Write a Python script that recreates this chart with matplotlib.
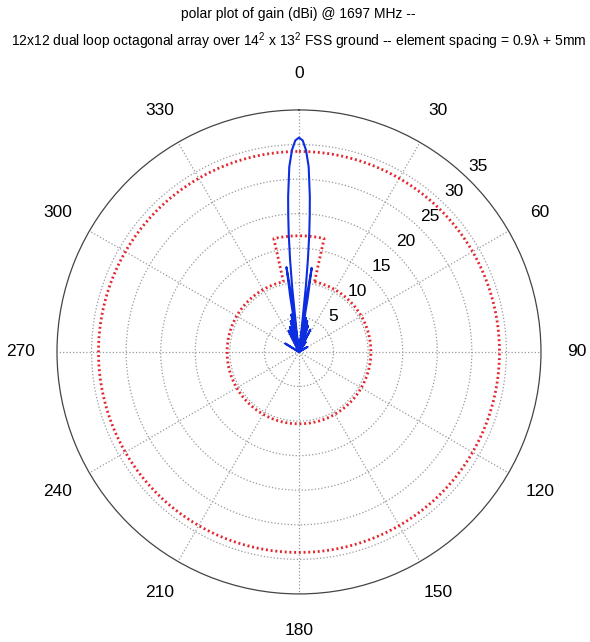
import numpy as np
import matplotlib
matplotlib.use("Agg")
import matplotlib.pyplot as plt
from matplotlib import font_manager

# measured gain pattern (dBi), angle in degrees clockwise from broadside
gain_deg = [-70, -60, -58.5, -57, -27.5, -26, -24.5, -21.5, -20, -18.5,
            -16.3, -15, -13.7, -12.5, -11.5, -10.5, -9.6, -9.0, -8.4, -7.8,
            -7.2, -6.6, -6.0, -5.5, -5.0, -4.5, -4.0, -3.0, -2.0, -1.0,
            0.0, 1.0, 2.0, 3.0, 4.0, 4.5, 5.0, 5.5, 6.0, 6.6,
            7.4, 8.0, 8.6, 9.2, 9.8, 10.5, 11.5, 12.5, 13.7, 15.0,
            16.3, 17.7, 19.0, 20.3, 25.5, 27.0, 28.5, 32.5, 34.0, 35.5,
            57.5, 59.0, 60.5, 70]
gain_dbi = [0, 0, 2.3, 0, 0, 3.4, 0, 0, 3.8, 0,
            0, 4.6, 0, 0, 5.5, 0, 0, 8.0, 12.4, 8.5,
            0, 3.0, 9.5, 13.5, 17.0, 19.8, 22.5, 26.8, 29.2, 30.6,
            31.0, 30.6, 29.2, 26.8, 22.5, 19.8, 17.0, 13.5, 9.5, 3.0,
            0, 8.5, 12.3, 8.0, 0, 0, 5.0, 0, 0, 4.6,
            0, 0, 4.0, 0, 0, 3.6, 0, 0, 1.7, 0,
            0, 1.4, 0, 0]

# red reference curves
ref_level = 29.0      # outer dotted circle
mask_low = 10.4       # inner dotted circle
mask_high = 16.8      # raised part round broadside
mask_edge = 12.5      # half width of raised part (deg)

ring_vals = [5, 10, 15, 20, 25, 30, 35]
angle_labels = list(range(0, 360, 30))

names = {f.name for f in font_manager.fontManager.ttflist}
fam = 'Liberation Sans Narrow' if 'Liberation Sans Narrow' in names else 'Liberation Sans'
plt.rcParams['font.family'] = [fam, 'DejaVu Sans']
plt.rcParams['mathtext.fontset'] = 'custom'
plt.rcParams['mathtext.rm'] = fam
plt.rcParams['mathtext.it'] = fam

fig = plt.figure(figsize=(5.9, 6.42), dpi=100)
ax = fig.add_axes([0.0966, 0.0748, 0.8203, 0.754], projection='polar')
ax.set_theta_zero_location('N')
ax.set_theta_direction(-1)
ax.set_ylim(0, 35)
ax.set_xticks(np.deg2rad(angle_labels))
ax.set_xticklabels([])
ax.set_yticks(ring_vals[:-1])
ax.set_yticklabels([])
ax.grid(True, color='#999999', linestyle=':', linewidth=0.9)
ax.spines['polar'].set_color('#444444')
ax.spines['polar'].set_linewidth(0.9)

# red dotted curves
red_ls = (0, (0.7, 1.0))
th = np.deg2rad(np.linspace(0, 360, 721))
ax.plot(th, np.full(th.size, ref_level), color='#e3262e', linestyle=red_ls, linewidth=2.0)
th_lo = np.deg2rad(np.linspace(mask_edge, 360 - mask_edge, 600))
th_hi = np.deg2rad(np.linspace(360 - mask_edge, 360 + mask_edge, 40))
mt = np.concatenate([th_lo, th_hi, [th_lo[0]]])
mr = np.concatenate([np.full(th_lo.size, mask_low), np.full(th_hi.size, mask_high), [mask_low]])
ax.plot(mt, mr, color='#e3262e', linestyle=red_ls, linewidth=2.0)

# gain pattern
ax.plot(np.deg2rad(gain_deg), gain_dbi, color='#0d2ee0', linewidth=1.5)

for a in angle_labels:
    ax.text(np.deg2rad(a), 35 * 1.15, str(a), ha='center', va='center', fontsize=12.5)
for v in ring_vals:
    ax.text(np.deg2rad(44), v + 2.2, str(v), ha='center', va='center', fontsize=12.5)

t1 = fig.text(0.505, 1 - 14 / 642, 'polar plot of gain (dBi) @ 1697 MHz --',
              ha='center', va='center', fontsize=11)
t2 = fig.text(0.507, 1 - 41 / 642,
              '12x12 dual loop octagonal array over 14$^2$ x 13$^2$ FSS ground -- '
              'element spacing = 0.9\u03bb + 5mm',
              ha='center', va='center', fontsize=11)

# fit title width to the reference
fig.canvas.draw()
r = fig.canvas.get_renderer()
w2 = t2.get_window_extent(r).width
fs = 11 * 575 / w2
t1.set_fontsize(fs)
t2.set_fontsize(fs)

fig.savefig('out.png', dpi=100)
